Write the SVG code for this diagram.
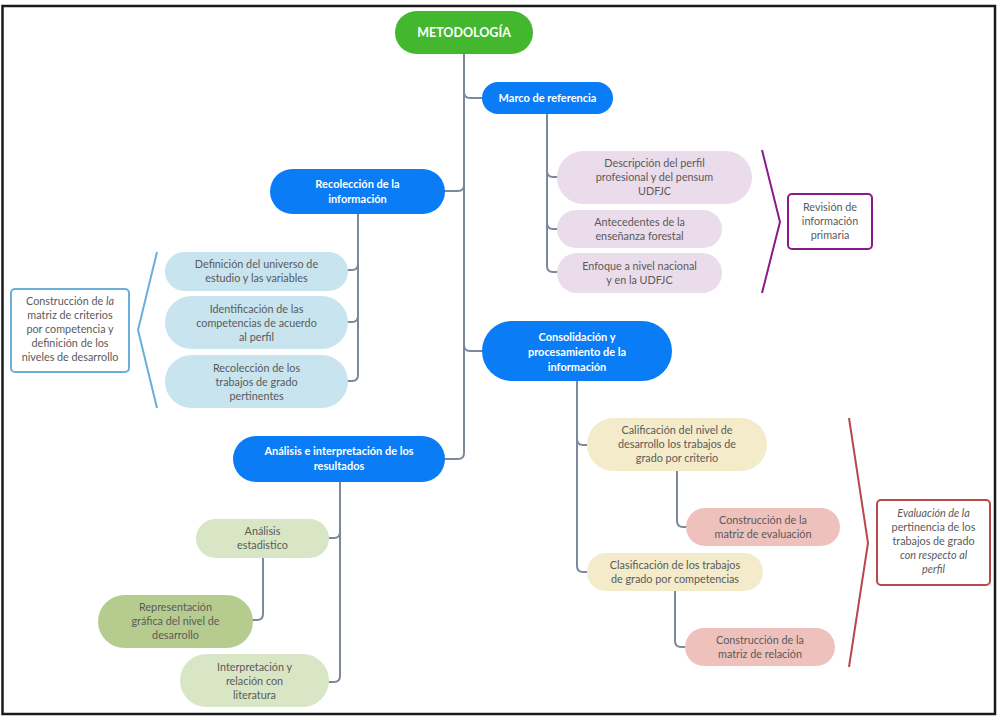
<svg xmlns="http://www.w3.org/2000/svg" width="1000" height="720" viewBox="0 0 1000 720">
<style>
text{font-family:Lato,"Open Sans","Liberation Sans",sans-serif;text-anchor:middle}
.con{fill:none;stroke:#7d889b;stroke-width:2;stroke-linecap:round}
.main text{fill:#fff;font-weight:bold;font-size:11px}
.root text{fill:#fff;font-weight:bold;font-size:12.5px}
.sub text{fill:#5a5a5a;font-size:10.8px}
.note text{fill:#5a5a5a;font-size:10.8px}
.blue{fill:#0a7cf5}
.lav{fill:#eadcea}
.lb{fill:#c7e4ef}
.beige{fill:#f3ebc9}
.pink{fill:#efc1bd}
.lg{fill:#d9e6c5}
.dg{fill:#b6cc8f}
</style>
<rect x="2.5" y="6" width="992.5" height="708" fill="#fff" stroke="#1a1a1a" stroke-width="2.5"/>

<g id="connectors">
<path class="con" d="M464,54 V453 Q464,459 458,459 H445"/>
<path class="con" d="M464,92 Q464,98 470,98 H482"/>
<path class="con" d="M464,185 Q464,191 458,191 H445"/>
<path class="con" d="M464,345 Q464,351 470,351 H482"/>
<path class="con" d="M547,114 V266 Q547,272 553,272 H557"/>
<path class="con" d="M547,171 Q547,177 553,177 H557"/>
<path class="con" d="M547,223 Q547,229 553,229 H557"/>
<path class="con" d="M358,214 V375 Q358,381 352,381 H348"/>
<path class="con" d="M358,264 Q358,270 352,270 H348"/>
<path class="con" d="M358,316 Q358,322 352,322 H348"/>
<path class="con" d="M577,381 V566 Q577,572 583,572 H587"/>
<path class="con" d="M577,439 Q577,445 583,445 H587"/>
<path class="con" d="M677,471 V521 Q677,527 683,527 H686"/>
<path class="con" d="M675,591 V641 Q675,647 681,647 H685"/>
<path class="con" d="M340,482 V676 Q340,682 334,682 H329"/>
<path class="con" d="M340,532 Q340,538 334,538 H329"/>
<path class="con" d="M263,558 V614 Q263,620 257,620 H253"/>
</g>

<g id="metodologia" class="root">
<rect x="395" y="11" width="138" height="43" rx="21.5" fill="#43b72e"/>
<text x="464" y="37">METODOLOGÍA</text>
</g>

<g id="marco" class="main">
<rect x="482" y="82" width="131" height="32" rx="16" class="blue"/>
<text x="547.5" y="102">Marco de referencia</text>
</g>

<g id="descripcion" class="sub">
<rect x="557" y="151" width="195" height="53" rx="26.5" class="lav"/>
<text x="654.5" y="167">Descripción del perfil</text>
<text x="654.5" y="181">profesional y del pensum</text>
<text x="654.5" y="195">UDFJC</text>
</g>

<g id="antecedentes" class="sub">
<rect x="557" y="210" width="165" height="38" rx="19" class="lav"/>
<text x="639.5" y="226">Antecedentes de la</text>
<text x="639.5" y="240">enseñanza forestal</text>
</g>

<g id="enfoque" class="sub">
<rect x="557" y="253" width="165" height="40" rx="20" class="lav"/>
<text x="639.5" y="270">Enfoque a nivel nacional</text>
<text x="639.5" y="284">y en la UDFJC</text>
</g>

<g id="revision" class="note">
<path d="M762,150 L780,222 L762,293" fill="none" stroke="#8a1a8a" stroke-width="2"/>
<rect x="788" y="194" width="84" height="55" rx="4" fill="#fff" stroke="#8a1a8a" stroke-width="2"/>
<text x="830" y="211">Revisión de</text>
<text x="830" y="225">información</text>
<text x="830" y="239">primaria</text>
</g>

<g id="recoleccion" class="main">
<rect x="270" y="169" width="175" height="45" rx="22.5" class="blue"/>
<text x="357.5" y="188">Recolección de la</text>
<text x="357.5" y="203">información</text>
</g>

<g id="definicion" class="sub">
<rect x="165" y="252" width="183" height="39" rx="19.5" class="lb"/>
<text x="256.5" y="268">Definición del universo de</text>
<text x="256.5" y="282">estudio y las variables</text>
</g>

<g id="identificacion" class="sub">
<rect x="165" y="296" width="183" height="53" rx="26.5" class="lb"/>
<text x="256.5" y="313">Identificación de las</text>
<text x="256.5" y="327">competencias de acuerdo</text>
<text x="256.5" y="341">al perfil</text>
</g>

<g id="recoleccion-trabajos" class="sub">
<rect x="165" y="355" width="183" height="53" rx="26.5" class="lb"/>
<text x="256.5" y="372">Recolección de los</text>
<text x="256.5" y="386">trabajos de grado</text>
<text x="256.5" y="400">pertinentes</text>
</g>

<g id="construccion-matriz-criterios" class="note">
<path d="M157,252 L138,330 L157,408" fill="none" stroke="#6aaedb" stroke-width="2"/>
<rect x="11" y="289" width="118" height="83" rx="4" fill="#fff" stroke="#6aaedb" stroke-width="2"/>
<text x="70" y="305">Construcción de <tspan font-style="italic">la</tspan></text>
<text x="70" y="319">matriz de criterios</text>
<text x="70" y="333">por competencia y</text>
<text x="70" y="347">definición de los</text>
<text x="70" y="361">niveles de desarrollo</text>
</g>

<g id="consolidacion" class="main">
<rect x="482" y="321" width="190" height="60" rx="30" class="blue"/>
<text x="577" y="341">Consolidación y</text>
<text x="577" y="356">procesamiento de la</text>
<text x="577" y="371">información</text>
</g>

<g id="calificacion" class="sub">
<rect x="587" y="418" width="180" height="53" rx="26.5" class="beige"/>
<text x="677" y="434">Calificación del nivel de</text>
<text x="677" y="448">desarrollo los trabajos de</text>
<text x="677" y="462">grado por criterio</text>
</g>

<g id="construccion-evaluacion" class="sub">
<rect x="686" y="508" width="154" height="38" rx="19" class="pink"/>
<text x="763" y="524">Construcción de la</text>
<text x="763" y="538">matriz de evaluación</text>
</g>

<g id="clasificacion" class="sub">
<rect x="587" y="553" width="176" height="38" rx="19" class="beige"/>
<text x="675" y="569">Clasificación de los trabajos</text>
<text x="675" y="583">de grado por competencias</text>
</g>

<g id="construccion-relacion" class="sub">
<rect x="685" y="628" width="150" height="38" rx="19" class="pink"/>
<text x="760" y="644">Construcción de la</text>
<text x="760" y="658">matriz de relación</text>
</g>

<g id="evaluacion-pertinencia" class="note">
<path d="M849,418 L868,543 L849,667" fill="none" stroke="#b9474c" stroke-width="2"/>
<rect x="877" y="500" width="113" height="85" rx="4" fill="#fff" stroke="#b9474c" stroke-width="2"/>
<text x="933.5" y="517" font-style="italic">Evaluación de la</text>
<text x="933.5" y="531">pertinencia de los</text>
<text x="933.5" y="545">trabajos de grado</text>
<text x="933.5" y="559" font-style="italic">con respecto al</text>
<text x="933.5" y="573" font-style="italic">perfil</text>
</g>

<g id="analisis" class="main">
<rect x="233" y="436" width="212" height="46" rx="23" class="blue"/>
<text x="339" y="455">Análisis e interpretación de los</text>
<text x="339" y="470">resultados</text>
</g>

<g id="analisis-estadistico" class="sub">
<rect x="196" y="519" width="133" height="39" rx="19.5" class="lg"/>
<text x="262.5" y="535">Análisis</text>
<text x="262.5" y="549">estadistico</text>
</g>

<g id="representacion" class="sub">
<rect x="98" y="595" width="155" height="53" rx="26.5" class="dg"/>
<text x="175.5" y="611">Representación</text>
<text x="175.5" y="625">gráfica del nivel de</text>
<text x="175.5" y="639">desarrollo</text>
</g>

<g id="interpretacion" class="sub">
<rect x="180" y="654" width="149" height="53" rx="26.5" class="lg"/>
<text x="254.5" y="671">Interpretación y</text>
<text x="254.5" y="685">relación con</text>
<text x="254.5" y="699">literatura</text>
</g>
</svg>
